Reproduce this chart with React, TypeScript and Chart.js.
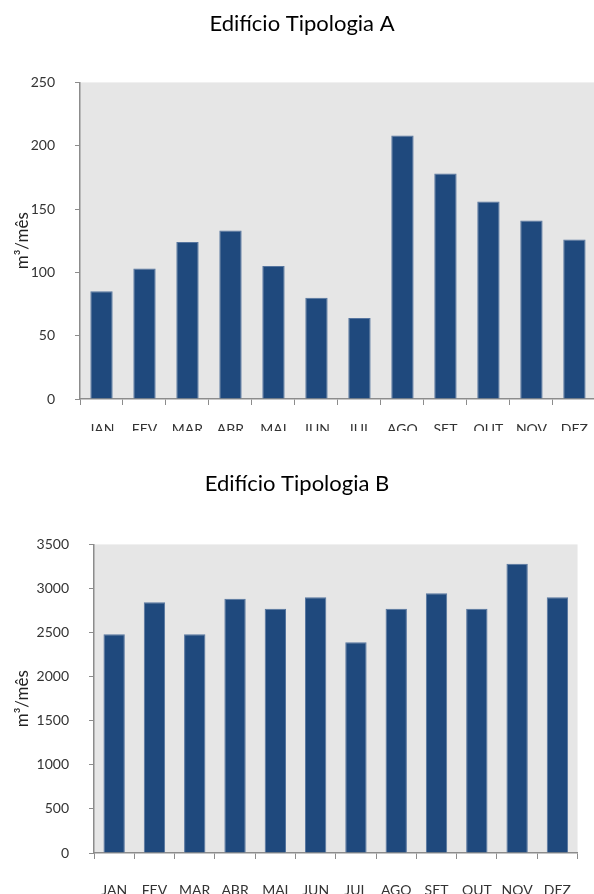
import React, { useEffect, useRef } from "react";
import { Chart, registerables } from "chart.js";

Chart.register(...registerables);

const months = ["JAN", "FEV", "MAR", "ABR", "MAI", "JUN", "JUL", "AGO", "SET", "OUT", "NOV", "DEZ"];
const valuesA = [85, 103, 124, 133, 105, 80, 64, 208, 178, 156, 141, 126];
const valuesB = [2480, 2845, 2480, 2885, 2770, 2900, 2390, 2770, 2945, 2770, 3280, 2900];
const titleA = "Edifício Tipologia A";
const titleB = "Edifício Tipologia B";
const yTitle = "m³/mês";
const yMaxA = 250;
const yStepA = 50;
const yMaxB = 3500;
const yStepB = 500;

const FONT = "Lato, 'Open Sans', sans-serif";
const AXIS = "#8c8c8c";

const plotBg = {
  id: "plotBg",
  beforeDraw(chart: any) {
    const { ctx, chartArea } = chart;
    if (!chartArea) return;
    ctx.save();
    ctx.fillStyle = "#e6e6e6";
    ctx.fillRect(chartArea.left, chartArea.top, chartArea.right - chartArea.left, chartArea.bottom - chartArea.top);
    ctx.restore();
  },
};

function makeConfig(
  title: string,
  data: number[],
  yMax: number,
  yStep: number,
  yWidth: number,
  xHeight: number,
  titleBottom: number,
  barPct: number,
  xPad: number
) {
  return {
    type: "bar" as const,
    data: {
      labels: months,
      datasets: [
        {
          data,
          backgroundColor: "#1f497d",
          borderColor: "#56759f",
          borderWidth: 1,
          barPercentage: barPct,
          categoryPercentage: 1,
        },
      ],
    },
    plugins: [plotBg],
    options: {
      responsive: false,
      animation: false,
      devicePixelRatio: 1,
      layout: { padding: 0 },
      plugins: {
        legend: { display: false },
        tooltip: { enabled: false },
        title: {
          display: true,
          text: title,
          color: "#000000",
          font: { family: FONT, size: 22, weight: "normal" },
          padding: { top: 11, bottom: titleBottom },
        },
      },
      scales: {
        x: {
          offset: true,
          grid: {
            display: true,
            offset: true,
            drawOnChartArea: false,
            drawTicks: true,
            tickLength: 6,
            color: AXIS,
          },
          border: { display: true, color: AXIS, width: 1.5 },
          ticks: {
            color: "#333333",
            font: { family: FONT, size: 14 },
            padding: xPad,
            maxRotation: 0,
            autoSkip: false,
          },
          afterFit(scale: any) {
            scale.height = xHeight;
          },
        },
        y: {
          min: 0,
          max: yMax,
          grid: {
            display: true,
            drawOnChartArea: false,
            drawTicks: true,
            tickLength: 5,
            color: AXIS,
          },
          border: { display: true, color: AXIS, width: 1.5 },
          ticks: {
            stepSize: yStep,
            color: "#333333",
            font: { family: FONT, size: 14 },
            padding: 20,
            callback: (v: any) => String(v),
          },
          title: {
            display: true,
            text: yTitle,
            color: "#222222",
            font: { family: FONT, size: 17 },
            padding: { top: 12, bottom: 0 },
          },
          afterFit(scale: any) {
            scale.width = yWidth;
          },
        },
      },
    },
  };
}

function BarChart(props: { config: any; width: number; height: number; top: number }) {
  const ref = useRef<HTMLCanvasElement | null>(null);
  useEffect(() => {
    if (!ref.current) return;
    const chart = new Chart(ref.current, props.config);
    return () => chart.destroy();
  }, []);
  return (
    <canvas
      ref={ref}
      width={props.width}
      height={props.height}
      style={{ position: "absolute", left: 0, top: props.top, width: props.width, height: props.height, display: "block" }}
    />
  );
}

export default function App() {
  const cfgA = makeConfig(titleA, valuesA, yMaxA, yStepA, 80, 32, 45, 0.52, 16);
  const cfgB = makeConfig(titleB, valuesB, yMaxB, yStepB, 94, 41, 47, 0.53, 23);
  return (
    <div
      style={{
        position: "absolute",
        left: 0,
        top: 0,
        width: 594,
        height: 894,
        overflow: "hidden",
        background: "#ffffff",
      }}
    >
      <BarChart config={cfgA} width={604} height={431} top={0} />
      <BarChart config={cfgB} width={594} height={434} top={460} />
    </div>
  );
}
